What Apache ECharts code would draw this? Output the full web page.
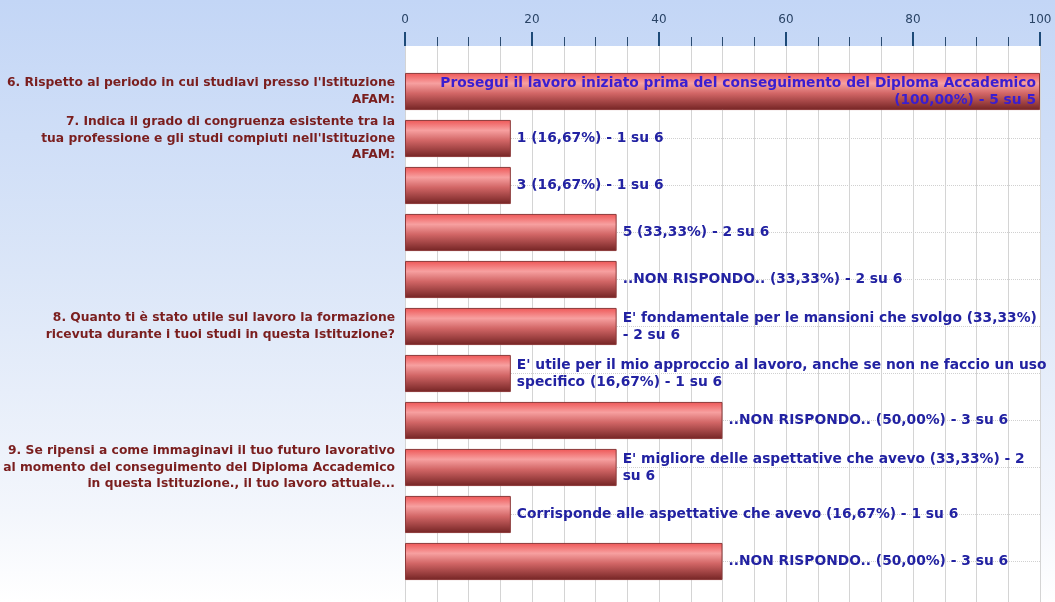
<!DOCTYPE html>
<html>
<head>
<meta charset="utf-8">
<script src="https://cdn.jsdelivr.net/npm/echarts@6/dist/echarts.min.js"></script>
<style>
html,body{margin:0;padding:0;}
#chart{width:1055px;height:602px;background:linear-gradient(to bottom,#c3d6f6 0%,#dbe6f8 45%,#f3f6fc 85%,#ffffff 100%);}
</style>
</head>
<body>
<div id="chart"></div>
<script>
// ---- data ----
const questionLabels = [
  "6. Rispetto al periodo in cui studiavi presso l'Istituzione\nAFAM:",
  "7. Indica il grado di congruenza esistente tra la\ntua professione e gli studi compiuti nell'Istituzione\nAFAM:",
  "", "", "",
  "8. Quanto ti è stato utile sul lavoro la formazione\nricevuta durante i tuoi studi in questa Istituzione?",
  "", "",
  "9. Se ripensi a come immaginavi il tuo futuro lavorativo\nal momento del conseguimento del Diploma Accademico\nin questa Istituzione., il tuo lavoro attuale...",
  "", ""
];
const answers = [
  "Prosegui il lavoro iniziato prima del conseguimento del Diploma Accademico",
  "1", "3", "5", "..NON RISPONDO..",
  "E' fondamentale per le mansioni che svolgo",
  "E' utile per il mio approccio al lavoro, anche se non ne faccio un uso specifico",
  "..NON RISPONDO..",
  "E' migliore delle aspettative che avevo",
  "Corrisponde alle aspettative che avevo",
  "..NON RISPONDO.."
];
const percents = [100, 16.67, 16.67, 33.33, 33.33, 33.33, 16.67, 50, 33.33, 16.67, 50];
const counts = [5, 1, 1, 2, 2, 2, 1, 3, 2, 1, 3];
const totals = [5, 6, 6, 6, 6, 6, 6, 6, 6, 6, 6];
const xTicks = [0, 20, 40, 60, 80, 100];

// ---- chart ----
const el = document.getElementById('chart');
const chart = echarts.init(el, null, {renderer: 'canvas'});

const gridLeft = 405, gridRight = 15;
const plotW = 1055 - gridLeft - gridRight;
const labelFontSize = 13.8;
const labelFontFamily = 'DejaVu Sans';
const fmtPct = v => v.toFixed(2).replace('.', ',');
const labelText = i => answers[i] + ' (' + fmtPct(percents[i]) + '%) - ' + counts[i] + ' su ' + totals[i];

// greedy word wrap (no leading/trailing spaces on lines)
const measureCtx = document.createElement('canvas').getContext('2d');
measureCtx.font = 'bold ' + labelFontSize + 'px "' + labelFontFamily + '"';
function wrap(text, maxW) {
  const words = text.split(' ');
  const lines = [];
  let cur = '';
  words.forEach(w => {
    const test = cur ? cur + ' ' + w : w;
    if (cur && measureCtx.measureText(test).width > maxW) {
      lines.push(cur);
      cur = w;
    } else {
      cur = test;
    }
  });
  if (cur) lines.push(cur);
  return lines.join('\n');
}

const barFill = new echarts.graphic.LinearGradient(0, 0, 0, 1, [
  {offset: 0, color: '#ee5656'},
  {offset: 0.28, color: '#f7a0a0'},
  {offset: 0.55, color: '#d26666'},
  {offset: 1, color: '#742424'}
]);

const seriesData = percents.map((v, i) => {
  const inside = v >= 99.99;
  return {
    value: v,
    label: inside ? {
      position: 'insideRight',
      distance: 4,
      align: 'right',
      color: '#3a1ed0',
      formatter: () => wrap(labelText(i), plotW - 12)
    } : {
      position: 'right',
      distance: 6,
      formatter: () => wrap(labelText(i), (100 - v) / 100 * plotW + 0.7)
    }
  };
});

const option = {
  animation: false,
  backgroundColor: 'transparent',
  grid: [
    {left: gridLeft, right: gridRight, top: 46, bottom: 0, show: true, backgroundColor: '#ffffff', borderWidth: 0, containLabel: false},
    {left: gridLeft, right: gridRight, top: 68, bottom: 17, containLabel: false}
  ],
  xAxis: [
    {
      gridIndex: 0, type: 'value', position: 'top',
      min: xTicks[0], max: xTicks[xTicks.length - 1], interval: xTicks[1] - xTicks[0],
      axisLine: {show: false, onZero: false},
      axisTick: {show: true, length: 14, lineStyle: {color: '#1d4a78', width: 2}},
      minorTick: {show: true, splitNumber: 4, length: 9, lineStyle: {color: '#2a4a70', width: 1}},
      splitLine: {show: true, lineStyle: {color: '#d4d4d4', width: 1}},
      minorSplitLine: {show: true, lineStyle: {color: '#d4d4d4', width: 1}},
      axisLabel: {color: '#2a4466', fontSize: 12, fontFamily: 'DejaVu Sans', margin: 20}
    },
    {gridIndex: 1, type: 'value', min: 0, max: 100, show: false}
  ],
  yAxis: [
    {gridIndex: 0, type: 'value', show: false},
    {
      gridIndex: 1, type: 'category', inverse: true,
      data: questionLabels.map((q, i) => 'r' + i),
      axisLine: {show: false},
      axisTick: {show: false},
      splitLine: {show: true, alignWithLabel: true, lineStyle: {color: '#d0d0d0', type: 'dotted', width: 1}},
      axisLabel: {
        interval: 0,
        formatter: (v, i) => questionLabels[i],
        color: '#7a1e1e', fontWeight: 'bold', fontSize: 12.3,
        fontFamily: 'DejaVu Sans', lineHeight: 16.5,
        align: 'right', margin: 10
      }
    }
  ],
  series: [{
    type: 'bar',
    xAxisIndex: 1, yAxisIndex: 1,
    barCategoryGap: '21%',
    data: seriesData,
    itemStyle: {color: barFill, borderColor: '#8c3a3a', borderWidth: 1},
    label: {
      show: true,
      color: '#2222a2', fontWeight: 'bold', fontSize: labelFontSize,
      fontFamily: labelFontFamily, lineHeight: 17
    }
  }]
};
chart.setOption(option);
</script>
</body>
</html>
